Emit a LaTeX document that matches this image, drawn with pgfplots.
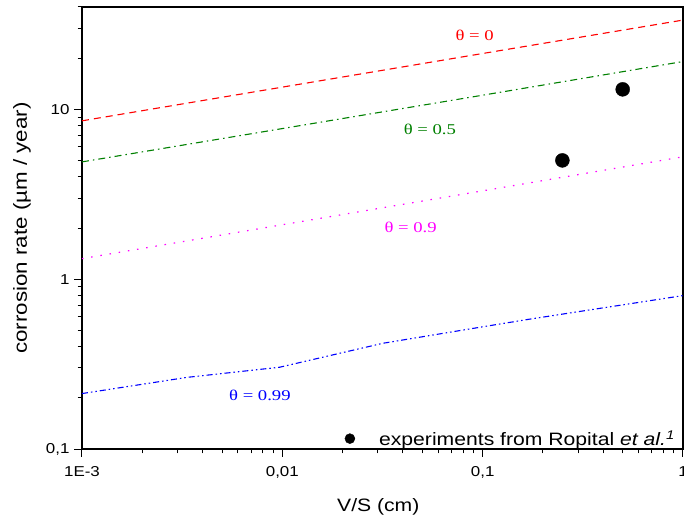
\documentclass[border=0pt]{standalone}
\usepackage{pgfplots}
\pgfplotsset{compat=1.18}
\usepackage{fontspec}
\setmainfont{Liberation Sans}[FakeStretch=1.18]
\newfontfamily\seriff{Liberation Serif}[FakeStretch=1.25]
\definecolor{dgreen}{RGB}{0,128,0}
\definecolor{mymag}{RGB}{255,0,255}
\definecolor{myblue}{RGB}{0,0,255}

\begin{document}
\begin{tikzpicture}
\useasboundingbox (-82bp,-72bp) rectangle (602bp,449bp);
\begin{axis}[
  at={(0,0)}, anchor=south west,
  scale only axis, width=601bp, height=442bp,
  xmode=log, ymode=log,
  xmin=1e-3, xmax=1, ymin=0.1, ymax=40,
  axis line style={line width=1.1bp},
  tick style={black, line width=1bp},
  tick align=outside,
  xtick pos=bottom, ytick pos=left,
  major tick length=8bp, minor tick length=4.5bp,
  xtick={0.001,0.01,0.1,1},
  xticklabels={1E-3,{0,01},{0,1},1},
  minor xtick={0.002,0.003,0.004,0.005,0.006,0.007,0.008,0.009,0.02,0.03,0.04,0.05,0.06,0.07,0.08,0.09,0.2,0.3,0.4,0.5,0.6,0.7,0.8,0.9},
  ytick={0.1,1,10},
  yticklabels={{0,1},1,10},
  minor ytick={0.2,0.3,0.4,0.5,0.6,0.7,0.8,0.9,2,3,4,5,6,7,8,9,20,30,40},
  ticklabel style={font=\fontsize{14.4}{16}\selectfont},
  xticklabel style={anchor=center, yshift=-15bp},
  yticklabel style={anchor=east, xshift=-1bp},
  xlabel={V/S (cm)},
  ylabel={corrosion rate (µm / year)},
  xlabel style={font=\fontsize{18}{20}\selectfont, at={(axis description cs:0.493,-0.131)}, anchor=center},
  ylabel style={font=\fontsize{19}{21}\selectfont, at={(axis description cs:-0.1,0.5)}, anchor=center},
  legend style={draw=none, fill=none, at={(1,0)}, anchor=south east, xshift=-6bp,
    font=\fontsize{18}{20}\selectfont, inner sep=0bp, column sep=22bp},
  legend cell align=left,
  legend image code/.code={\fill[black] (0bp,0bp) circle (5bp);},
]
\addplot[red, line width=1.1bp, dash pattern=on 7bp off 5bp, forget plot] coordinates {
 (0.001,8.55) (0.01,13.5) (0.1,21.3) (1,33.5)};
\addplot[dgreen, line width=1.1bp, dash pattern=on 7bp off 4bp on 1.5bp off 4bp, forget plot] coordinates {
 (0.001,4.9) (0.01,7.7) (0.1,12.1) (1,19.1)};
\addplot[mymag, line width=1.2bp, dash pattern=on 1.5bp off 7.8bp, forget plot] coordinates {
 (0.001,1.32) (0.01,2.09) (0.1,3.31) (1,5.25)};
\addplot[myblue, line width=1.1bp, dash pattern=on 6bp off 3bp on 1.5bp off 3bp on 1.5bp off 3bp, forget plot] coordinates {
 (0.001,0.212) (0.00334,0.264) (0.0097,0.303) (0.0317,0.419) (0.1,0.524) (0.171,0.581) (1,0.80)};
\addplot[only marks, mark=*, mark size=7bp, black] coordinates {(0.25,5.0) (0.5,13.1)};
\addlegendentry{experiments from Ropital \textit{et al.}\textsuperscript{\textit{1}}}
\node[red, font=\seriff\fontsize{15}{17}\selectfont] at (axis cs:0.0912,27.2) {θ = 0};
\node[dgreen, font=\seriff\fontsize{15}{17}\selectfont] at (axis cs:0.0545,7.57) {θ = 0.5};
\node[mymag, font=\seriff\fontsize{15}{17}\selectfont] at (axis cs:0.0437,2.03) {θ = 0.9};
\node[myblue, font=\seriff\fontsize{15}{17}\selectfont] at (axis cs:0.00773,0.207) {θ = 0.99};
\end{axis}
\end{tikzpicture}
\end{document}
